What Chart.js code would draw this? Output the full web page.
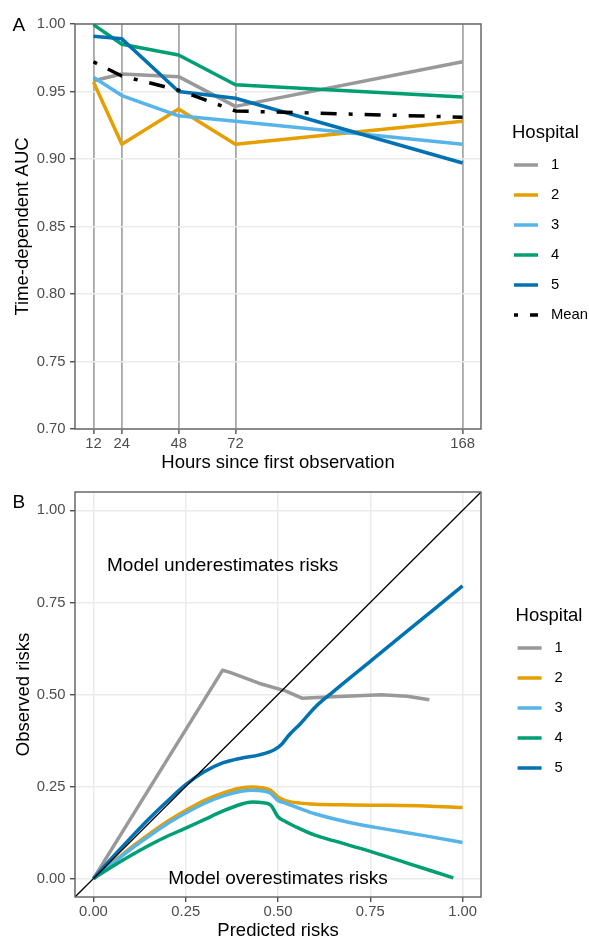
<!DOCTYPE html>
<html>
<head>
<meta charset="utf-8">
<title>Time-dependent AUC and calibration by hospital</title>
<script src="https://cdn.jsdelivr.net/npm/chart.js@4.4.1/dist/chart.umd.min.js"></script>
<style>
  html, body { margin: 0; padding: 0; background: #fff; overflow: hidden; }
  .panel { position: absolute; left: 0; top: 0; }
</style>
</head>
<body>
<canvas id="aucChart" class="panel" width="589" height="960"></canvas>
<canvas id="calChart" class="panel" width="589" height="960"></canvas>
<script>
// ---- Panel A: time-dependent AUC by hours since first observation ----
const HOURS = [12, 24, 48, 72, 168];
const AUC_TICKS = [0.7, 0.75, 0.8, 0.85, 0.9, 0.95, 1.0];
const HOSPITALS = ["1", "2", "3", "4", "5"];
const AUC_H1 = [0.958, 0.963, 0.961, 0.939, 0.972];
const AUC_H2 = [0.957, 0.911, 0.937, 0.911, 0.928];
const AUC_H3 = [0.9605, 0.947, 0.932, 0.928, 0.911];
const AUC_H4 = [0.9995, 0.985, 0.977, 0.955, 0.946];
const AUC_H5 = [0.991, 0.989, 0.950, 0.945, 0.897];
const AUC_MEAN = [0.972, 0.9615, 0.951, 0.9356, 0.931];

// ---- Panel B: calibration curves (predicted vs observed risk) ----
const RISK_TICKS = [0, 0.25, 0.5, 0.75, 1];
const CAL_H1_X = [0, 0.35, 0.37, 0.45, 0.52, 0.565, 0.65, 0.78, 0.85, 0.91];
const CAL_H1_Y = [0, 0.566, 0.56, 0.53, 0.51, 0.49, 0.494, 0.499, 0.495, 0.486];
const CAL_H2_X = [0, 0.05, 0.1, 0.15, 0.2, 0.25, 0.3, 0.35, 0.4, 0.43, 0.46, 0.48, 0.5, 0.52, 0.56, 0.6, 0.7, 0.8, 0.9, 1.0];
const CAL_H2_Y = [0, 0.042, 0.083, 0.12, 0.155, 0.185, 0.212, 0.232, 0.246, 0.249, 0.246, 0.24, 0.222, 0.212, 0.205, 0.202, 0.2, 0.199, 0.197, 0.193];
const CAL_H3_X = [0, 0.05, 0.1, 0.15, 0.2, 0.25, 0.3, 0.35, 0.4, 0.43, 0.46, 0.48, 0.5, 0.52, 0.56, 0.6, 0.7, 0.8, 0.9, 1.0];
const CAL_H3_Y = [0, 0.04, 0.079, 0.115, 0.149, 0.178, 0.204, 0.224, 0.237, 0.24, 0.238, 0.232, 0.212, 0.205, 0.19, 0.176, 0.151, 0.133, 0.116, 0.098];
const CAL_H4_X = [0, 0.05, 0.1, 0.15, 0.2, 0.25, 0.3, 0.35, 0.4, 0.43, 0.46, 0.48, 0.5, 0.52, 0.56, 0.6, 0.65, 0.75, 0.85, 0.975];
const CAL_H4_Y = [0, 0.032, 0.062, 0.09, 0.115, 0.137, 0.16, 0.183, 0.202, 0.208, 0.206, 0.2, 0.168, 0.155, 0.135, 0.118, 0.103, 0.074, 0.042, 0.002];
const CAL_H5_X = [0, 0.05, 0.1, 0.15, 0.2, 0.25, 0.3, 0.35, 0.4, 0.45, 0.49, 0.51, 0.53, 0.56, 0.6, 0.65, 0.75, 0.85, 1.0];
const CAL_H5_Y = [0, 0.056, 0.11, 0.162, 0.21, 0.255, 0.29, 0.314, 0.327, 0.336, 0.35, 0.365, 0.39, 0.42, 0.465, 0.508, 0.59, 0.672, 0.795];
const DIAGONAL = [-0.05, 1.05];

const HOSPITAL_COLORS = ["#999999", "#E69F00", "#56B4E9", "#009E73", "#0072B2"];
const FONT = "'Liberation Sans', Arial, sans-serif";
const TICK_SIZE = 14.8;
const TITLE_SIZE = 18.5;

Chart.defaults.font.family = FONT;

const toPoints = (xs, ys) => xs.map((x, i) => ({ x: x, y: ys[i] }));

// ggplot-like decoration: panel border, text notes, tag letter and a line legend
const panelDecor = {
  id: "panelDecor",
  afterDatasetsDraw(chart, args, opts) {
    const { ctx, chartArea: a, scales } = chart;
    ctx.save();
    ctx.fillStyle = "#000";
    ctx.font = `19px ${FONT}`;
    ctx.textAlign = "center";
    ctx.textBaseline = "middle";
    (opts.notes || []).forEach((n) => {
      ctx.fillText(n.text, scales.x.getPixelForValue(n.x), scales.y.getPixelForValue(n.y));
    });
    ctx.strokeStyle = "#5e5e5e";
    ctx.lineWidth = 1.4;
    ctx.strokeRect(a.left, a.top, a.right - a.left, a.bottom - a.top);
    ctx.restore();
  },
  afterDraw(chart, args, opts) {
    const { ctx, chartArea: a } = chart;
    const items = chart.data.datasets.filter((d) => d.label);
    ctx.save();
    // tag letter
    ctx.fillStyle = "#000";
    ctx.font = `19px ${FONT}`;
    ctx.textAlign = "left";
    ctx.textBaseline = "alphabetic";
    ctx.fillText(opts.tag.text, opts.tag.x, opts.tag.y);

    // legend, centred in the space right of the panel
    ctx.font = `${TITLE_SIZE}px ${FONT}`;
    let w = ctx.measureText(opts.title).width;
    ctx.font = `${TICK_SIZE}px ${FONT}`;
    items.forEach((d) => { w = Math.max(w, 37 + ctx.measureText(d.label).width); });
    const left = a.right + 68 - w / 2;
    const mid = (a.top + a.bottom) / 2;
    const titleY = mid - 2.75 - (32.5 + (items.length - 1) * 30 + 20) / 2 + 10;
    ctx.textBaseline = "middle";
    ctx.font = `${TITLE_SIZE}px ${FONT}`;
    ctx.fillText(opts.title, left, titleY);
    ctx.font = `${TICK_SIZE}px ${FONT}`;
    items.forEach((d, i) => {
      const y = titleY + 32.5 + i * 30;
      ctx.beginPath();
      ctx.setLineDash(d.borderDash || []);
      ctx.lineCap = "butt";
      ctx.strokeStyle = d.borderColor;
      ctx.lineWidth = d.borderWidth;
      ctx.moveTo(left + 2, y);
      ctx.lineTo(left + 26, y);
      ctx.stroke();
      ctx.setLineDash([]);
      ctx.fillText(d.label, left + 39, y);
    });
    ctx.restore();
  },
};

// shared axis styling
function axis(opts) {
  return {
    type: "linear",
    min: opts.min,
    max: opts.max,
    afterBuildTicks: (s) => { s.ticks = opts.ticks.map((v) => ({ value: v })); },
    afterFit: opts.fit,
    ticks: {
      autoSkip: false,
      maxRotation: 0,
      color: "#4d4d4d",
      font: { size: TICK_SIZE },
      padding: opts.padding,
      callback: opts.format,
    },
    grid: {
      color: opts.gridColor || "#ebebeb",
      lineWidth: opts.gridWidth || 1.5,
      tickLength: 5,
      tickColor: "#333333",
      tickWidth: 1.2,
    },
    border: { display: false },
    title: {
      display: true,
      text: opts.title,
      color: "#000",
      font: { size: TITLE_SIZE },
      padding: opts.titlePadding,
    },
  };
}

function baseOptions(padding) {
  return {
    responsive: false,
    animation: false,
    events: [],
    layout: { padding: padding },
    elements: { point: { radius: 0 }, line: { borderCapStyle: "butt", borderJoinStyle: "round" } },
  };
}

function createAucChart(canvasId) {
  const series = [AUC_H1, AUC_H2, AUC_H3, AUC_H4, AUC_H5];
  const datasets = series.map((vals, i) => ({
    label: HOSPITALS[i],
    data: toPoints(HOURS, vals),
    borderColor: HOSPITAL_COLORS[i],
    borderWidth: 3.5,
    tension: 0,
    order: 6 - i,
  }));
  datasets.push({
    label: "Mean",
    data: toPoints(HOURS, AUC_MEAN),
    borderColor: "#000000",
    borderWidth: 3.5,
    borderDash: [4, 12, 16, 12],
    tension: 0,
    order: 0,
  });

  const options = baseOptions({ left: 0, top: 24, right: 108, bottom: 960 - 429 - 45 });
  options.scales = {
    x: axis({
      min: 4.2, max: 175.8, ticks: HOURS, padding: 1,
      format: (v) => String(v),
      gridColor: "#a8a8a8", gridWidth: 1.8,
      title: "Hours since first observation", titlePadding: 0,
      fit: (s) => { s.height = 45; },
    }),
    y: axis({
      min: 0.7, max: 1.0, ticks: AUC_TICKS, padding: 4.5,
      format: (v) => v.toFixed(2),
      title: "Time-dependent AUC", titlePadding: { top: 11.4, bottom: 0 },
      fit: (s) => { s.width = 75; },
    }),
  };
  options.plugins = {
    legend: { display: false },
    tooltip: { enabled: false },
    panelDecor: { title: "Hospital", tag: { text: "A", x: 12.5, y: 30.7 } },
  };

  return new Chart(document.getElementById(canvasId), {
    type: "line",
    data: { datasets: datasets },
    options: options,
    plugins: [panelDecor],
  });
}

function createCalibrationChart(canvasId) {
  const xs = [CAL_H1_X, CAL_H2_X, CAL_H3_X, CAL_H4_X, CAL_H5_X];
  const ys = [CAL_H1_Y, CAL_H2_Y, CAL_H3_Y, CAL_H4_Y, CAL_H5_Y];
  const datasets = xs.map((x, i) => ({
    label: HOSPITALS[i],
    data: toPoints(x, ys[i]),
    borderColor: HOSPITAL_COLORS[i],
    borderWidth: 3.5,
    cubicInterpolationMode: i === 0 ? "default" : "monotone",
    tension: i === 0 ? 0 : 0.4,
    order: 6 - i,
  }));
  // y = x reference line
  datasets.push({
    label: "",
    data: toPoints(DIAGONAL, DIAGONAL),
    borderColor: "#000000",
    borderWidth: 1.3,
    tension: 0,
    order: 0,
  });

  const options = baseOptions({ left: 0, top: 492, right: 108, bottom: 960 - 897 - 45 });
  options.scales = {
    x: axis({
      min: -0.05, max: 1.05, ticks: RISK_TICKS, padding: 1,
      format: (v) => v.toFixed(2),
      title: "Predicted risks", titlePadding: 0,
      fit: (s) => { s.height = 45; },
    }),
    y: axis({
      min: -0.05, max: 1.05, ticks: RISK_TICKS, padding: 4.5,
      format: (v) => v.toFixed(2),
      title: "Observed risks", titlePadding: { top: 13, bottom: 0 },
      fit: (s) => { s.width = 75; },
    }),
  };
  options.plugins = {
    legend: { display: false },
    tooltip: { enabled: false },
    panelDecor: {
      title: "Hospital",
      tag: { text: "B", x: 12.5, y: 508.3 },
      notes: [
        { text: "Model underestimates risks", x: 0.35, y: 0.85 },
        { text: "Model overestimates risks", x: 0.5, y: 0.0 },
      ],
    },
  };

  return new Chart(document.getElementById(canvasId), {
    type: "line",
    data: { datasets: datasets },
    options: options,
    plugins: [panelDecor],
  });
}

createAucChart("aucChart");
createCalibrationChart("calChart");
</script>
</body>
</html>
